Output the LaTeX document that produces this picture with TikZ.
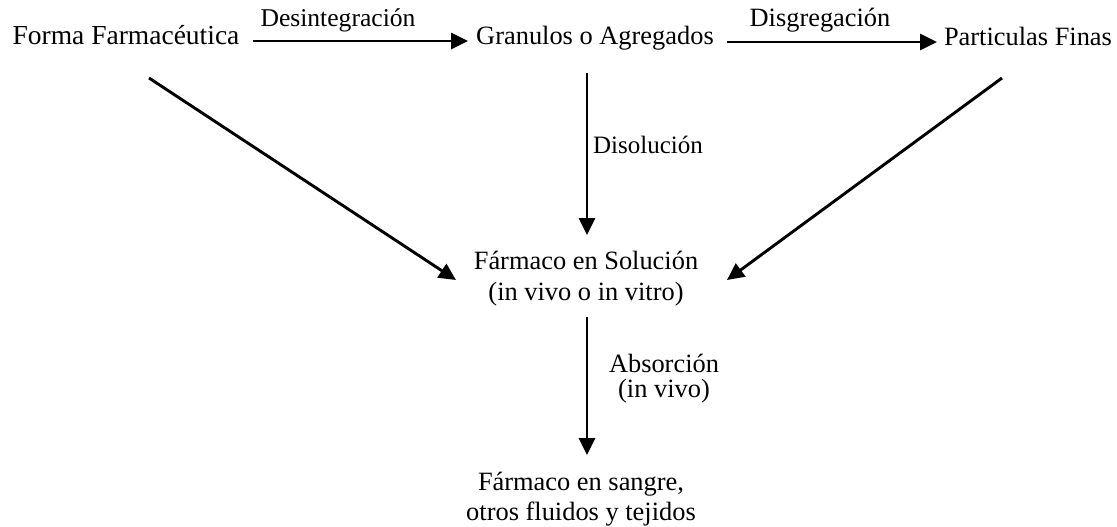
\documentclass[tikz,border=0pt]{standalone}
\usepackage{fontspec}
\setmainfont{Liberation Serif}
\usetikzlibrary{arrows.meta}
\newcommand{\twolines}[2]{\begin{tabular}[t]{@{}c@{}}#1\\#2\end{tabular}}
\begin{document}
\begin{tikzpicture}[x=1pt,y=-1pt,
  txt/.style={inner sep=0pt,anchor=base,font=\fontsize{26.4pt}{31pt}\selectfont},
  arr/.style={line width=2.9pt,-{Triangle[length=17pt,width=16pt]}}]
\useasboundingbox (0,0) rectangle (1117,527);
% main nodes
\node[txt,font=\fontsize{27.5pt}{31pt}\selectfont] (forma) at (126,45) {Forma Farmacéutica};
\node[txt] (gran) at (595,45) {Granulos o Agregados};
\node[txt] (part) at (1028,46) {Particulas Finas};
\node[txt] (sol) at (586,269) {\twolines{Fármaco en Solución}{(in vivo o in vitro)}};
\node[txt,font=\fontsize{26.4pt}{30pt}\selectfont] (blood) at (581,490) {\twolines{Fármaco en sangre,}{otros fluidos y tejidos}};
% labels
\node[txt,font=\fontsize{25.6pt}{31pt}\selectfont] (desint) at (338,27) {Desintegración};
\node[txt] (disgreg) at (820,27) {Disgregación};
\node[txt,font=\fontsize{25pt}{31pt}\selectfont] (disol) at (648,153) {Disolución};
\node[txt,font=\fontsize{26.4pt}{25.5pt}\selectfont] (absor) at (664,372) {\twolines{Absorción}{(in vivo)}};
% connectors
\draw[arr] ([shift={(127,-4)}]forma.base) -- ([shift={(-127,-4)}]gran.base);
\draw[arr] ([shift={(132,-3)}]gran.base) -- ([shift={(-91,-4)}]part.base);
\draw[arr] ([shift={(-8,28)}]gran.base) -- ([shift={(1,-34)}]sol.base);
\draw[arr] ([shift={(23,33)}]forma.base) -- ([shift={(-130,11)}]sol.base);
\draw[arr] ([shift={(-26,32)}]part.base) -- ([shift={(141,11)}]sol.base);
\draw[arr] ([shift={(1,48)}]sol.base) -- ([shift={(6,-35)}]blood.base);
\end{tikzpicture}
\end{document}
